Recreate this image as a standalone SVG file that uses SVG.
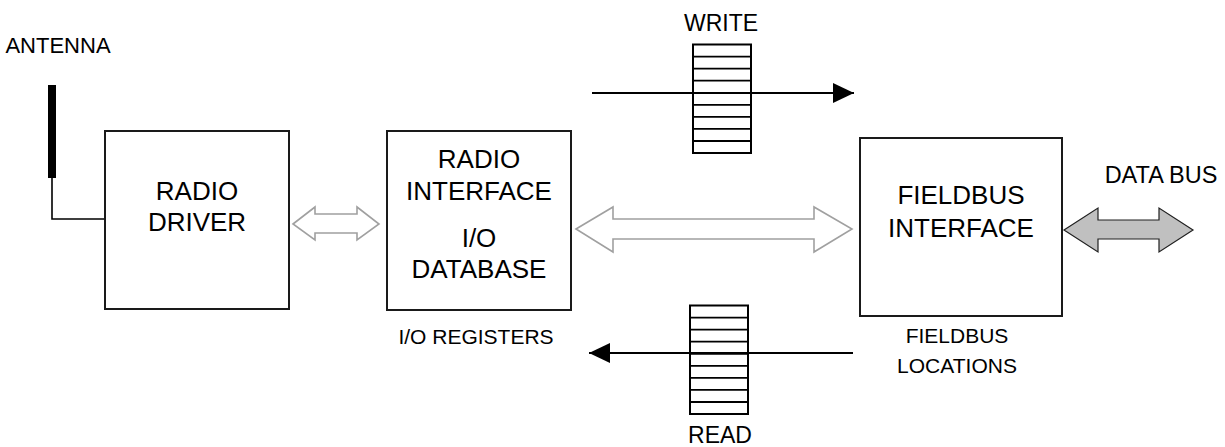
<svg xmlns="http://www.w3.org/2000/svg" width="1225" height="447" viewBox="0 0 1225 447">
<style>
text{font-family:"Liberation Sans",Arial,sans-serif;fill:#000;text-anchor:middle}
.big{font-size:26px}
.lab{font-size:22px}
.box{fill:#fff;stroke:#1a1a1a;stroke-width:2}
.reg{fill:#fff;stroke:#000;stroke-width:2}
.cell{stroke:#000;stroke-width:1.8}
.hollow{fill:#fff;stroke:#a0a0a0;stroke-width:1.6;stroke-linejoin:miter}
.grey{fill:#c0c0c0;stroke:#202020;stroke-width:1.2}
.wire{fill:none;stroke:#000;stroke-width:2}
</style>
<defs>
<marker id="ah" markerWidth="21" markerHeight="20" refX="21" refY="10" orient="auto" markerUnits="userSpaceOnUse" viewBox="0 0 21 20">
<path d="M0,0 L21,10 L0,20 Z" fill="#000"/>
</marker>
</defs>
<g id="antenna">
<rect x="48" y="85" width="8" height="93" fill="#000"/>
<path d="M52,178 V219 H105" fill="none" stroke="#000" stroke-width="1.6"/>
<text class="lab" x="58" y="53">ANTENNA</text>
</g>
<g id="radio-driver">
<rect class="box" x="105" y="131" width="184" height="178"/>
<text class="big" x="197" y="200">RADIO</text>
<text class="big" x="197" y="231">DRIVER</text>
</g>
<g id="radio-interface">
<rect class="box" x="387" y="131" width="184" height="179"/>
<text class="big" x="479" y="168">RADIO</text>
<text class="big" x="479" y="200">INTERFACE</text>
<text class="big" x="479" y="247">I/O</text>
<text class="big" x="479" y="278">DATABASE</text>
<text class="lab" x="476" y="344" style="font-size:21px">I/O REGISTERS</text>
</g>
<g id="fieldbus-interface">
<rect class="box" x="860" y="138" width="202" height="178"/>
<text class="big" x="961" y="204">FIELDBUS</text>
<text class="big" x="961" y="237">INTERFACE</text>
<text class="lab" x="957" y="343" style="font-size:21px">FIELDBUS</text>
<text class="lab" x="957" y="373" style="font-size:21px">LOCATIONS</text>
</g>
<g id="write-register">
<rect class="reg" x="693" y="44.5" width="58" height="108.5"/>
<path class="cell" d="M693,56.6H751M693,68.6H751M693,80.7H751M693,92.8H751M693,104.8H751M693,116.9H751M693,128.9H751M693,141H751"/>
<text class="lab" x="721" y="31" style="font-size:23px">WRITE</text>
</g>
<g id="read-register">
<rect class="reg" x="690" y="305.5" width="58" height="108.5"/>
<path class="cell" d="M690,317.6H748M690,329.6H748M690,341.7H748M690,353.8H748M690,365.8H748M690,377.9H748M690,389.9H748M690,402H748"/>
<text class="lab" x="720" y="443" style="font-size:23px">READ</text>
</g>
<g id="data-bus">
<text class="lab" x="1161" y="183" style="font-size:23.5px">DATA BUS</text>
</g>
<g id="connectors">
<polygon class="hollow" points="293,224 315,207 315,214 357,214 357,207 379,224 357,240 357,233 315,233 315,240"/>
<polygon class="hollow" points="576,229 613,207 613,219 814,219 814,207 852,229 814,252 814,239 613,239 613,252"/>
<polygon class="grey" points="1064,230 1098,208 1098,220 1159,220 1159,208 1193,230 1159,252 1159,239 1098,239 1098,252"/>
<line class="wire" x1="592" y1="93" x2="854" y2="93" marker-end="url(#ah)"/>
<line class="wire" x1="853" y1="353" x2="589" y2="353" marker-end="url(#ah)"/>
</g>
</svg>
